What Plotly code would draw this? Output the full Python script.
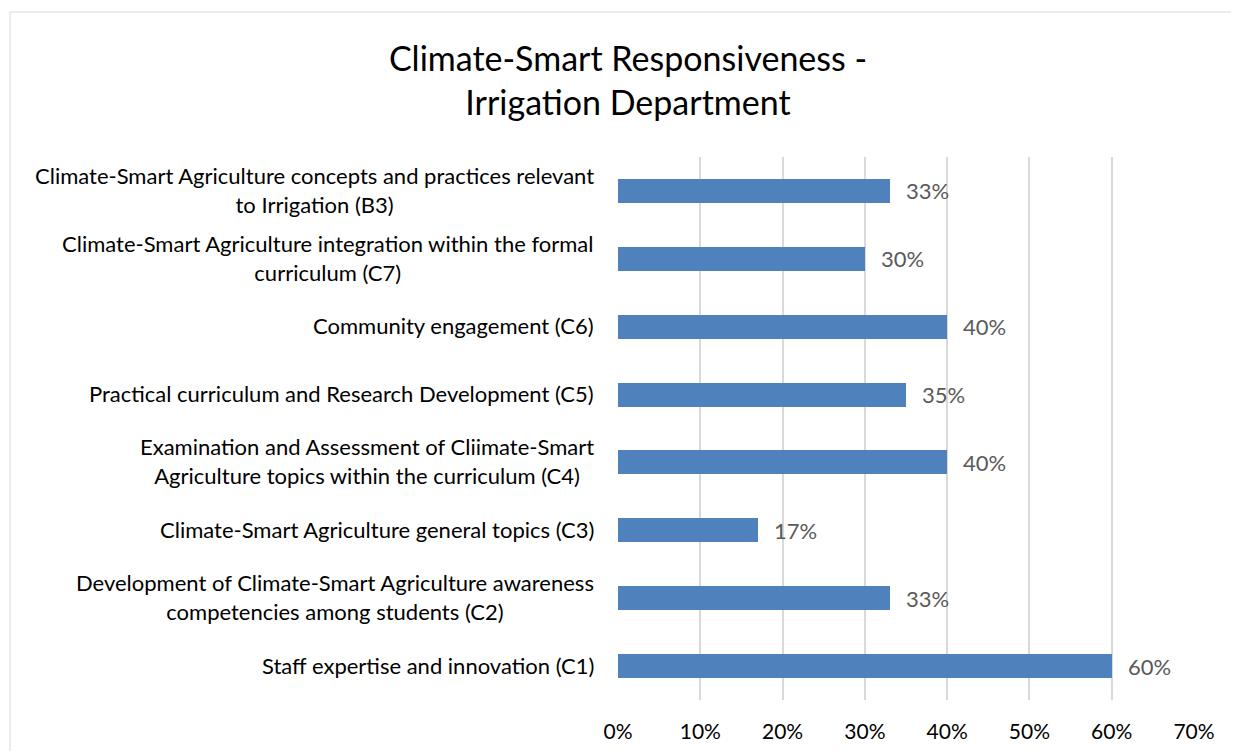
import plotly.graph_objects as go

categories = [
    "Climate-Smart Agriculture concepts and practices relevant<br>to Irrigation (B3)",
    "Climate-Smart Agriculture integration within the formal<br>curriculum (C7)",
    "Community engagement (C6)",
    "Practical curriculum and Research Development (C5)",
    "Examination and Assessment of Cliimate-Smart<br>Agriculture topics within the curriculum (C4)",
    "Climate-Smart Agriculture general topics (C3)",
    "Development of Climate-Smart Agriculture awareness<br>competencies among students (C2)",
    "Staff expertise and innovation (C1)",
]
values = [0.33, 0.30, 0.40, 0.35, 0.40, 0.17, 0.33, 0.60]
x_ticks = [0, 0.1, 0.2, 0.3, 0.4, 0.5, 0.6, 0.7]
x_tick_labels = ["0%", "10%", "20%", "30%", "40%", "50%", "60%", "70%"]
title_text = "Climate-Smart Responsiveness -<br>Irrigation Department"

FONT = "Lato"
# page body has an 8px margin; place the figure so it lines up with the window
OFF = 8
W, H = 1239 - 2 * OFF, 751 - OFF
ML = 618 - OFF
MT = 157 - OFF
MR = W - (1194 - OFF)
MB = H - (700 - OFF)

fig = go.Figure()
fig.add_trace(go.Bar(
    x=values, y=list(range(len(categories))), orientation="h",
    marker=dict(color="#4f81bd", line=dict(width=0)),
    width=0.355, hoverinfo="skip",
))

annotations = []
for i, (c, v) in enumerate(zip(categories, values)):
    annotations.append(dict(
        x=0, xref="paper", y=i, yref="y", text=c, showarrow=False,
        xanchor="right", yanchor="middle", align="center", xshift=-22, yshift=1,
        font=dict(family=FONT, size=22, color="#000000"),
    ))
    annotations.append(dict(
        x=v, xref="x", y=i, yref="y", text=f"{round(v*100)}%", showarrow=False,
        xanchor="left", yanchor="middle", xshift=14,
        font=dict(family=FONT, size=22, color="#595959"),
    ))

pw = W - ML - MR
ph = H - MT - MB
bx, by = 10 - OFF, 12 - OFF
shapes = [dict(
    type="rect", xref="paper", yref="paper",
    x0=(bx - ML) / pw, x1=(W + 40 - ML) / pw,
    y0=(H - MB - (H + 40)) / ph, y1=(H - MB - by) / ph,
    line=dict(color="#d9d9d9", width=1), fillcolor="rgba(0,0,0,0)", layer="below",
)]

fig.update_layout(
    width=W, height=H,
    margin=dict(l=ML, r=MR, t=MT, b=MB, pad=0, autoexpand=False),
    paper_bgcolor="white", plot_bgcolor="white",
    showlegend=False,
    title=dict(text=title_text, x=(628 - OFF) / W, xanchor="center", xref="container",
               y=1 - (71 - OFF) / H, yanchor="middle", yref="container",
               font=dict(family=FONT, size=34, color="#000000")),
    xaxis=dict(range=[0, 0.7], tickvals=x_ticks, ticktext=x_tick_labels,
               showgrid=True, gridcolor="#d9d9d9", gridwidth=1.5,
               zeroline=False, showline=False, ticks="", ticklabelstandoff=17,
               automargin=False,
               tickfont=dict(family=FONT, size=21, color="#000000"), fixedrange=True),
    yaxis=dict(range=[len(categories) - 0.5, -0.5], showticklabels=False,
               automargin=False,
               showgrid=False, zeroline=False, showline=False, ticks="", fixedrange=True),
    annotations=annotations,
    shapes=shapes,
    bargap=0,
)

fig.write_html("out.html")
